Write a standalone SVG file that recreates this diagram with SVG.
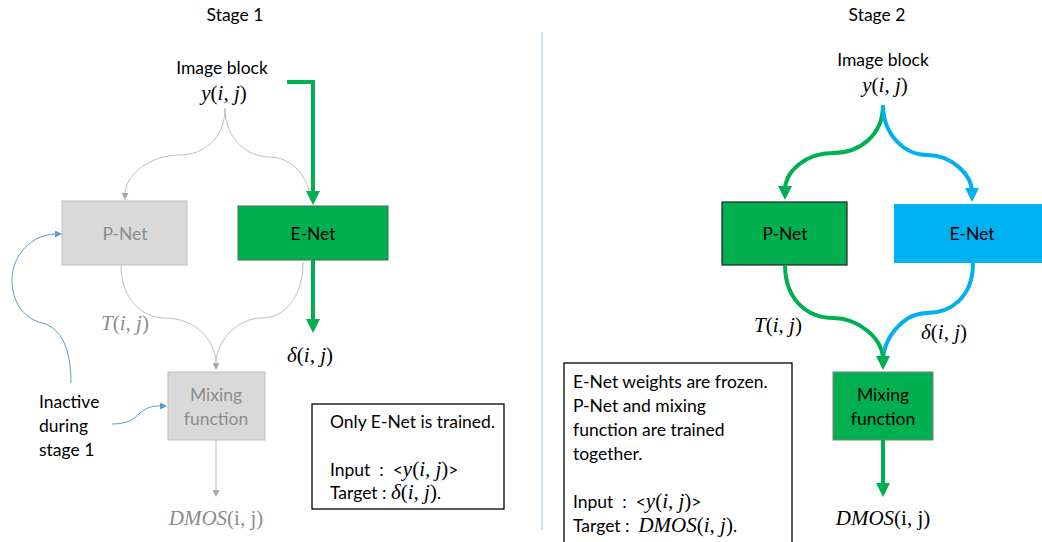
<svg xmlns="http://www.w3.org/2000/svg" width="1042" height="542" viewBox="0 0 1042 542">
  <style>
    .t { font-family: Lato, "Liberation Sans", sans-serif; font-size: 17.5px; fill: #000; }
    .c { text-anchor: middle; }
    .dim { fill: #8c8c8c; }
    .m { font-family: "Liberation Serif", "DejaVu Serif", serif; font-size: 21px; font-style: italic; }
    .u { font-style: normal; }
    .thin { fill: none; stroke: #bfbfbf; stroke-width: 1; }
    .note { fill: none; stroke: #5b9bd5; stroke-width: 1; }
    .g { fill: none; stroke: #00b050; stroke-width: 4; }
    .b { fill: none; stroke: #00b0f0; stroke-width: 4; }
  </style>
  <defs>
    <marker id="hG" viewBox="0 0 14 14" markerWidth="14" markerHeight="14" markerUnits="userSpaceOnUse" refX="4" refY="7" orient="auto">
      <path d="M0,0 L14,7 L0,14 z" fill="#00b050"/>
    </marker>
    <marker id="hB" viewBox="0 0 14 14" markerWidth="14" markerHeight="14" markerUnits="userSpaceOnUse" refX="4" refY="7" orient="auto">
      <path d="M0,0 L14,7 L0,14 z" fill="#00b0f0"/>
    </marker>
    <marker id="hGray" viewBox="0 0 7 7" markerWidth="7" markerHeight="7" markerUnits="userSpaceOnUse" refX="1" refY="3.5" orient="auto">
      <path d="M0,0 L7,3.5 L0,7 z" fill="#a6a6a6"/>
    </marker>
    <marker id="hNote" viewBox="0 0 7 7" markerWidth="7" markerHeight="7" markerUnits="userSpaceOnUse" refX="1" refY="3.5" orient="auto">
      <path d="M0,0 L7,3.5 L0,7 z" fill="#5b9bd5"/>
    </marker>
  </defs>

  <!-- titles and divider -->
  <text class="t c" x="235" y="21">Stage 1</text>
  <text class="t c" x="877" y="21">Stage 2</text>
  <line x1="542" y1="32" x2="542" y2="530" stroke="#9dc3e6" stroke-width="1"/>

  <!-- ===== Stage 1 ===== -->
  <g id="s1-input">
    <text class="t c" x="222" y="74">Image block</text>
    <text class="m c" x="224" y="100">y<tspan class="u">(</tspan>i, j<tspan class="u">)</tspan></text>
  </g>
  <g id="s1-pnet">
    <rect x="62" y="201" width="125" height="64" fill="#d9d9d9" stroke="#bfbfbf" stroke-width="1"/>
    <text class="t c dim" x="125" y="240">P-Net</text>
  </g>
  <g id="s1-enet">
    <rect x="238" y="206" width="150" height="54" fill="#00b050" stroke="#3f6f4f" stroke-width="1"/>
    <text class="t c" x="313" y="240">E-Net</text>
  </g>
  <g id="s1-mix">
    <rect x="168" y="372" width="97" height="68" fill="#d9d9d9" stroke="#bfbfbf" stroke-width="1"/>
    <text class="t c dim" x="216" y="401">Mixing</text>
    <text class="t c dim" x="216" y="425">function</text>
  </g>
  <g id="s1-labels">
    <text class="m c dim" x="125" y="330">T<tspan class="u">(</tspan>i, j<tspan class="u">)</tspan></text>
    <text class="m c" x="310" y="362">δ<tspan class="u">(</tspan>i, j<tspan class="u">)</tspan></text>
    <text class="m c dim" x="216" y="525">DMOS<tspan class="u">(i, j)</tspan></text>
  </g>
  <g id="s1-inactive">
    <text class="t" x="39" y="408">Inactive</text>
    <text class="t" x="39" y="432">during</text>
    <text class="t" x="39" y="456">stage 1</text>
  </g>
  <g id="s1-box">
    <rect x="312" y="404" width="192" height="105" fill="#fff" stroke="#000" stroke-width="1.3"/>
    <text class="t" x="330" y="428">Only E-Net is trained.</text>
    <text class="t" x="330" y="476">Input&#160;&#160;:&#160;&#160;&lt;<tspan class="m">y<tspan class="u">(</tspan>i, j<tspan class="u">)</tspan></tspan>&gt;</text>
    <text class="t" x="330" y="499">Target : <tspan class="m">δ<tspan class="u">(</tspan>i, j<tspan class="u">)</tspan></tspan>.</text>
  </g>

  <!-- ===== Stage 2 ===== -->
  <g id="s2-input">
    <text class="t c" x="883" y="66">Image block</text>
    <text class="m c" x="885" y="92">y<tspan class="u">(</tspan>i, j<tspan class="u">)</tspan></text>
  </g>
  <g id="s2-pnet">
    <rect x="722" y="202" width="125" height="63" fill="#00b050" stroke="#222" stroke-width="1.2"/>
    <text class="t c" x="785" y="240">P-Net</text>
  </g>
  <g id="s2-enet">
    <rect x="894" y="204" width="148" height="59" fill="#00b0f0"/>
    <text class="t c" x="972" y="240">E-Net</text>
  </g>
  <g id="s2-mix">
    <rect x="833" y="372" width="100" height="68" fill="#00b050" stroke="#7f7f7f" stroke-width="1"/>
    <text class="t c" x="883" y="401">Mixing</text>
    <text class="t c" x="883" y="425">function</text>
  </g>
  <g id="s2-labels">
    <text class="m c" x="778" y="332">T<tspan class="u">(</tspan>i, j<tspan class="u">)</tspan></text>
    <text class="m c" x="944" y="339">δ<tspan class="u">(</tspan>i, j<tspan class="u">)</tspan></text>
    <text class="m c" x="883" y="525">DMOS<tspan class="u">(i, j)</tspan></text>
  </g>
  <g id="s2-box">
    <rect x="564" y="363" width="228" height="190" fill="#fff" stroke="#000" stroke-width="1.3"/>
    <text class="t" x="573" y="388">E-Net weights are frozen.</text>
    <text class="t" x="573" y="412">P-Net and mixing</text>
    <text class="t" x="573" y="436">function are trained</text>
    <text class="t" x="573" y="460">together.</text>
    <text class="t" x="573" y="508">Input&#160;&#160;:&#160;&#160;&lt;<tspan class="m">y<tspan class="u">(</tspan>i, j<tspan class="u">)</tspan></tspan>&gt;</text>
    <text class="t" x="573" y="532">Target :&#160;&#160;<tspan class="m">DMOS<tspan class="u">(</tspan>i, j<tspan class="u">)</tspan></tspan>.</text>
  </g>

  <!-- connectors -->
  <g id="connectors">
    <!-- stage 1: inactive paths -->
    <path class="thin" d="M225,108 C225,140 202,155 180,155 C150,155 125,175 125,194" marker-end="url(#hGray)"/>
    <path class="thin" d="M225,108 C225,140 248,157 270,157 C292,157 310,178 310,200"/>
    <path class="thin" d="M121,265 C121,300 143,318 165,318 C195,318 216,340 216,364" marker-end="url(#hGray)"/>
    <path class="thin" d="M303,262 C303,298 284,318 262,318 C238,318 216,340 216,364"/>
    <path class="thin" d="M216,440 L216,491" marker-end="url(#hGray)"/>
    <!-- stage 1: trained path -->
    <path class="g" d="M287,82 L313,82 L313,195" marker-end="url(#hG)"/>
    <path class="g" d="M313,260 L313,323" marker-end="url(#hG)"/>
    <!-- stage 1: notes -->
    <path class="note" d="M71,383 C71,350 62,328 42,323 C22,318 12,300 12,280 C12,255 32,234 56,234" marker-end="url(#hNote)"/>
    <path class="note" d="M112,424 C128,424 134,419 140,413 C147,407 153,406 161,406" marker-end="url(#hNote)"/>
    <!-- stage 2 -->
    <path class="g" d="M883,105 C883,135 860,153 833,153 C805,153 785,172 785,190" marker-end="url(#hG)"/>
    <path class="b" d="M883,105 C883,135 905,155 927,155 C952,155 972,175 972,192" marker-end="url(#hB)"/>
    <path class="b" d="M973,263 C973,298 950,313 927,313 C905,313 883,336 883,362"/>
    <path class="g" d="M785,265 C785,300 808,318 833,318 C858,318 883,338 883,360" marker-end="url(#hG)"/>
    <path class="g" d="M883,440 L883,487" marker-end="url(#hG)"/>
  </g>
</svg>
